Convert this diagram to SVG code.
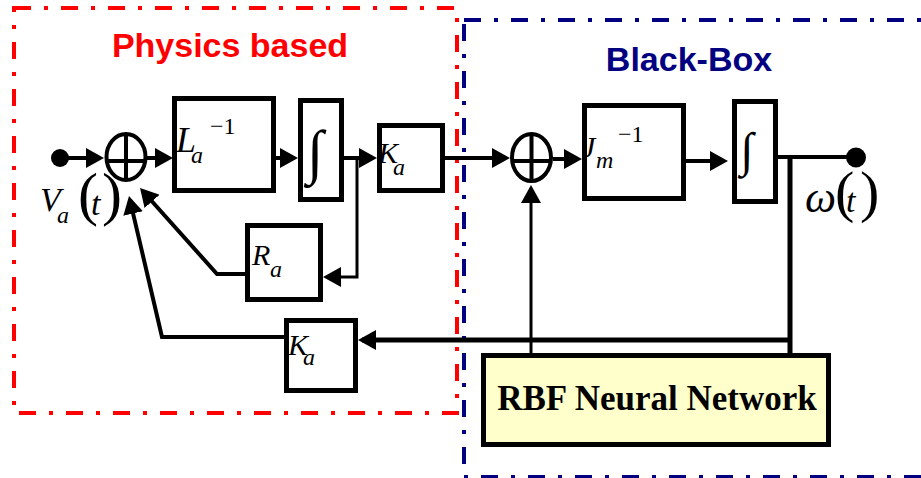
<svg xmlns="http://www.w3.org/2000/svg" width="921" height="478" viewBox="0 0 921 478">
<style>
.blk{fill:#fff;stroke:#000;stroke-width:5}
.ln{fill:none;stroke:#000;stroke-width:4}
.thin{stroke-width:3}
.thick{stroke-width:5}
.m{font-family:"Liberation Serif",serif;font-style:italic;fill:#000}
.n{font-family:"Liberation Serif",serif;fill:#000}
.up{font-style:normal}
.sum{fill:#fff;stroke:#000;stroke-width:4}
.ttl{font-family:"Liberation Sans",Arial,sans-serif;font-weight:bold;font-size:34px;text-anchor:middle}
.frame{fill:none;stroke-width:4;stroke-dasharray:17 13 4 13}
</style>
<defs>
<marker id="arr" markerUnits="userSpaceOnUse" markerWidth="18" markerHeight="20" viewBox="0 0 18 20" refX="14" refY="10" orient="auto">
<path d="M0,0 L18,10 L0,20 z" fill="#000"/>
</marker>
</defs>
<rect width="921" height="478" fill="#fff"/>
<g id="frames">
<rect class="frame" x="14" y="8" width="443" height="405" stroke="#ff0000"/>
<rect class="frame" x="464" y="20" width="470" height="457" stroke="#000080"/>
<text class="ttl" x="230" y="57" fill="#ff0000">Physics based</text>
<text class="ttl" x="689" y="71" fill="#000080">Black-Box</text>
</g>
<g id="connectors">
<path class="ln" d="M60,158 H100" marker-end="url(#arr)"/>
<path class="ln" d="M147,158 H169" marker-end="url(#arr)"/>
<path class="ln" d="M276,158 H294" marker-end="url(#arr)"/>
<path class="ln" d="M344,158 H373" marker-end="url(#arr)"/>
<path class="ln thin" d="M357,158 V277 H327" marker-end="url(#arr)"/>
<path class="ln" d="M247,274 H217 L142.7,191" marker-end="url(#arr)"/>
<path class="ln" d="M284,337 H162 L129.9,199.9" marker-end="url(#arr)"/>
<path class="ln" d="M445,158 H506" marker-end="url(#arr)"/>
<path class="ln" d="M553,159 H578" marker-end="url(#arr)"/>
<path class="ln" d="M686,161 H724" marker-end="url(#arr)"/>
<path class="ln" d="M778,157 H856"/>
<path class="ln thick" d="M790,157 V353"/>
<path class="ln thick" d="M790,340 H362" marker-end="url(#arr)"/>
<path class="ln thin" d="M531,353 V189" marker-end="url(#arr)"/>
</g>
<g id="input">
<circle cx="60" cy="158" r="9" fill="#000"/>
<text class="m" x="40" y="211" font-size="34">V<tspan x="57" y="223" font-size="24">a</tspan><tspan class="up" x="78" y="214" font-size="60">(</tspan><tspan x="91" y="215">t</tspan><tspan class="up" x="102" y="214" font-size="60">)</tspan></text>
</g>
<g id="sum1">
<ellipse class="sum" cx="126" cy="157" rx="19.5" ry="23"/>
<path class="ln" d="M106,161 H146 M126,134 V180"/>
</g>
<g id="La">
<rect class="blk" x="174.5" y="98.5" width="99" height="92"/>
<text class="m" x="176" y="152" font-size="36">L<tspan x="191" y="163" font-size="24">a</tspan><tspan class="up" x="210" y="134" font-size="24">−1</tspan></text>
</g>
<g id="int1">
<rect class="blk" x="300.5" y="100.5" width="41" height="99"/>
<text class="n" x="315" y="172" font-size="60" text-anchor="middle">∫</text>
</g>
<g id="Ka1">
<rect class="blk" x="379.5" y="125.5" width="63" height="65"/>
<text class="m" x="378" y="163" font-size="30">K<tspan x="393" y="175" font-size="24">a</tspan></text>
</g>
<g id="Ra">
<rect class="blk" x="247.5" y="225.5" width="73" height="74"/>
<text class="m" x="252" y="265" font-size="30">R<tspan x="270" y="277" font-size="24">a</tspan></text>
</g>
<g id="Ka2">
<rect class="blk" x="286.5" y="320.5" width="69" height="70"/>
<text class="m" x="288" y="355" font-size="30">K<tspan x="303" y="365" font-size="24">a</tspan></text>
</g>
<g id="sum2">
<ellipse class="sum" cx="531.5" cy="157.5" rx="19.5" ry="23.5"/>
<path class="ln" d="M512,161 H551 M531.5,134 V181"/>
</g>
<g id="Jm">
<rect class="blk" x="584.5" y="105.5" width="99" height="93"/>
<text class="m" x="582" y="157" font-size="30">J<tspan x="596" y="168" font-size="24">m</tspan><tspan class="up" x="618" y="142" font-size="24">−1</tspan></text>
</g>
<g id="int2">
<rect class="blk" x="734.5" y="101.5" width="41" height="100"/>
<text class="n" x="747" y="166" font-size="48" text-anchor="middle">∫</text>
</g>
<g id="output">
<circle cx="856" cy="157.5" r="10" fill="#000"/>
<text class="m" x="805" y="212" font-size="44">ω<tspan class="up" x="835" y="211" font-size="58">(</tspan><tspan x="846" y="212" font-size="34">t</tspan><tspan class="up" x="860" y="211" font-size="58">)</tspan></text>
</g>
<g id="rbf">
<rect x="483.5" y="355.5" width="345" height="89" fill="#ffffcc" stroke="#000" stroke-width="5"/>
<text class="n" x="657" y="410" font-size="35" font-weight="bold" text-anchor="middle">RBF Neural Network</text>
</g>
</svg>
